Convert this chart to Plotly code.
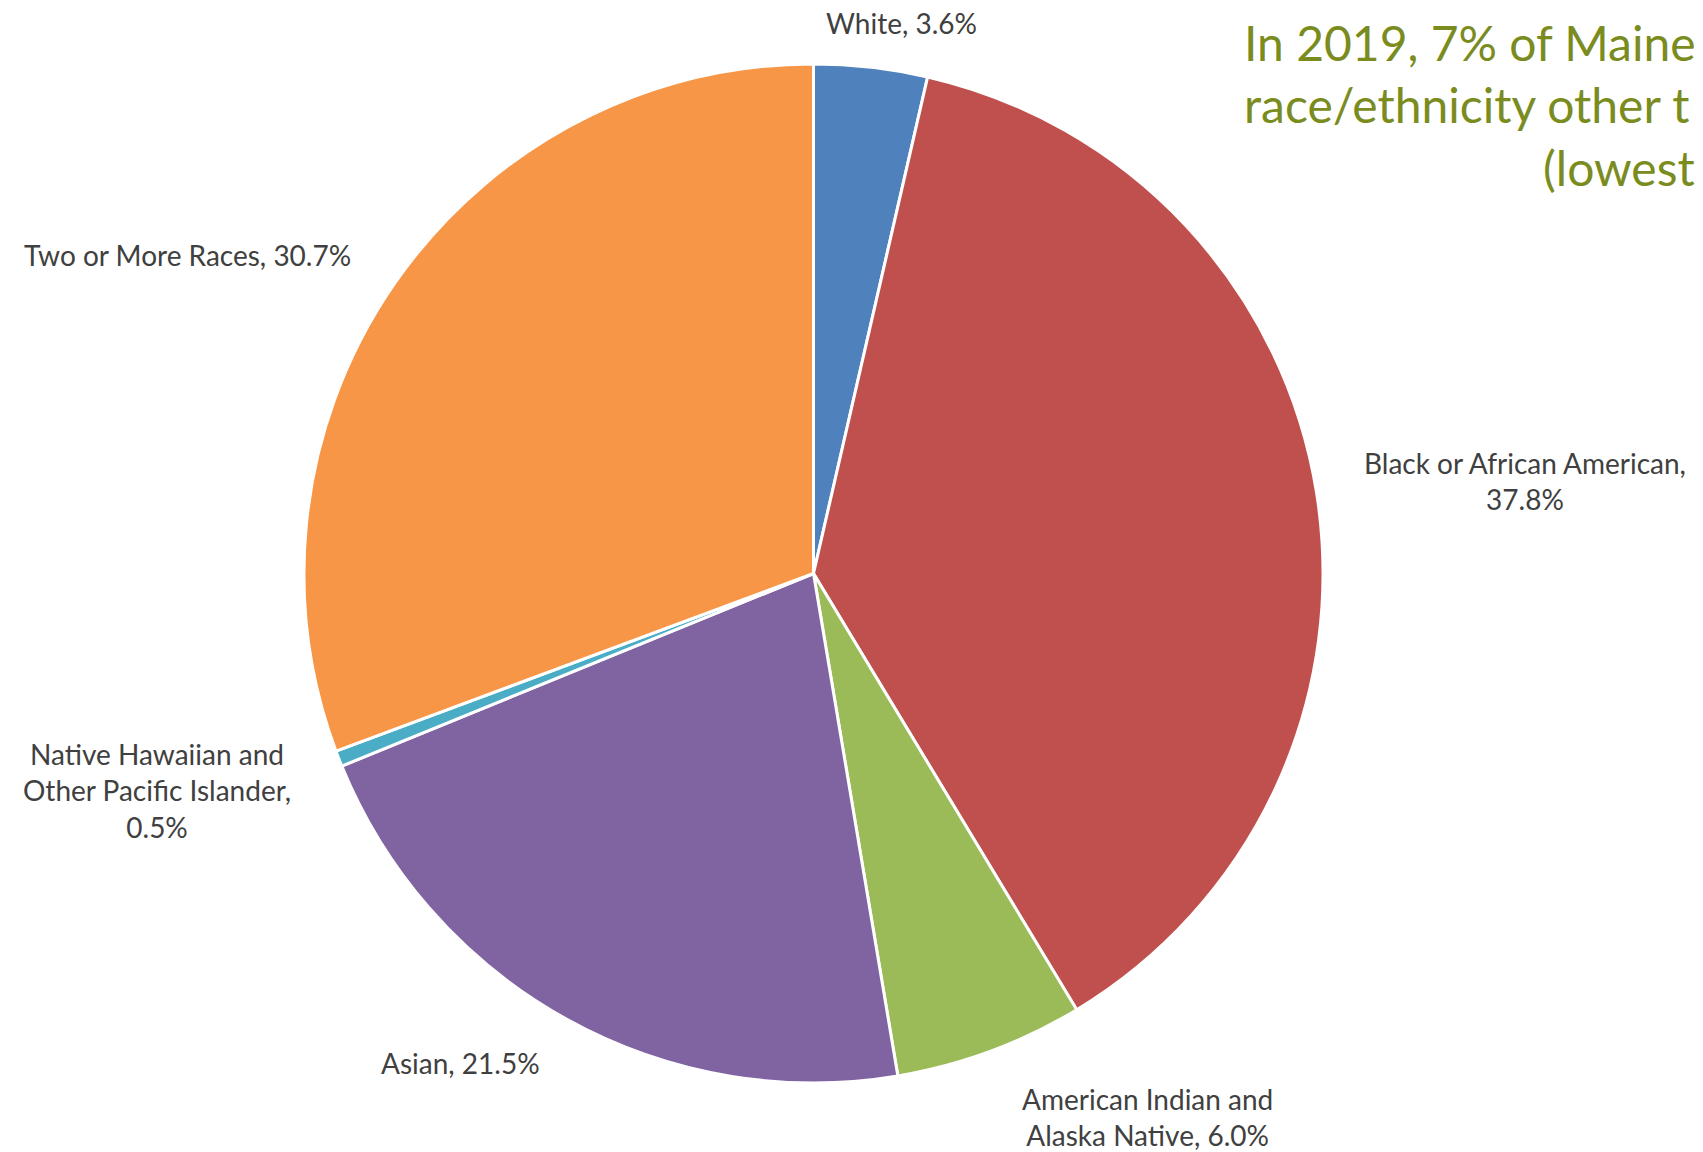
import plotly.graph_objects as go

W, H = 1703, 1152

categories = ["White", "Black or African American", "American Indian and Alaska Native",
              "Asian", "Native Hawaiian and Other Pacific Islander", "Two or More Races"]
values = [3.6, 37.8, 6.0, 21.5, 0.5, 30.7]
colors = ["#4F81BD", "#C0504D", "#9BBB59", "#8064A2", "#4BACC6", "#F79646"]

# label text layout (line breaks) and pixel positions (centers)
label_templates = [
    "White, {v}",
    "Black or African American,<br>{v}",
    "American Indian and<br>Alaska Native, {v}",
    "Asian, {v}",
    "Native Hawaiian and<br>Other Pacific Islander,<br>{v}",
    "Two or More Races, {v}",
]
label_pos = [(901, 23), (1525, 481), (1147, 1117), (460, 1063), (157, 790), (187, 255)]

# title as visible in the reference (cut at the right edge)
title_lines = ["In 2019, 7% of Maine", "race/ethnicity other t", "(lowest"]
title_pos = [(1242, 42, "left"), (1242, 104, "left"), (1697, 167, "right")]

fig = go.Figure(go.Pie(
    labels=categories, values=values, sort=False, direction="clockwise", rotation=0,
    marker=dict(colors=colors, line=dict(color="white", width=3)),
    textinfo="none", hoverinfo="label+percent", showlegend=False,
    domain=dict(x=[304 / W, 1323 / W], y=[1 - 1084 / H, 1 - 63 / H]),
))

annotations = []
for tpl, v, (px, py) in zip(label_templates, values, label_pos):
    annotations.append(dict(
        text=tpl.format(v=f"{v:.1f}%"), x=px / W, y=1 - py / H, xref="paper", yref="paper",
        xanchor="center", yanchor="middle", showarrow=False, align="center",
        font=dict(family="Lato", size=28, color="#404040"),
    ))
for t, (px, py, anc) in zip(title_lines, title_pos):
    annotations.append(dict(
        text=t, x=px / W, y=1 - py / H, xref="paper", yref="paper",
        xanchor=anc, yanchor="middle", showarrow=False, align=anc,
        font=dict(family="Lato", size=48, color="#7B8C1F"),
    ))

fig.update_layout(
    width=W, height=H, margin=dict(l=0, r=0, t=0, b=0),
    paper_bgcolor="white", plot_bgcolor="white",
    annotations=annotations,
)

fig.write_html("out.html")
